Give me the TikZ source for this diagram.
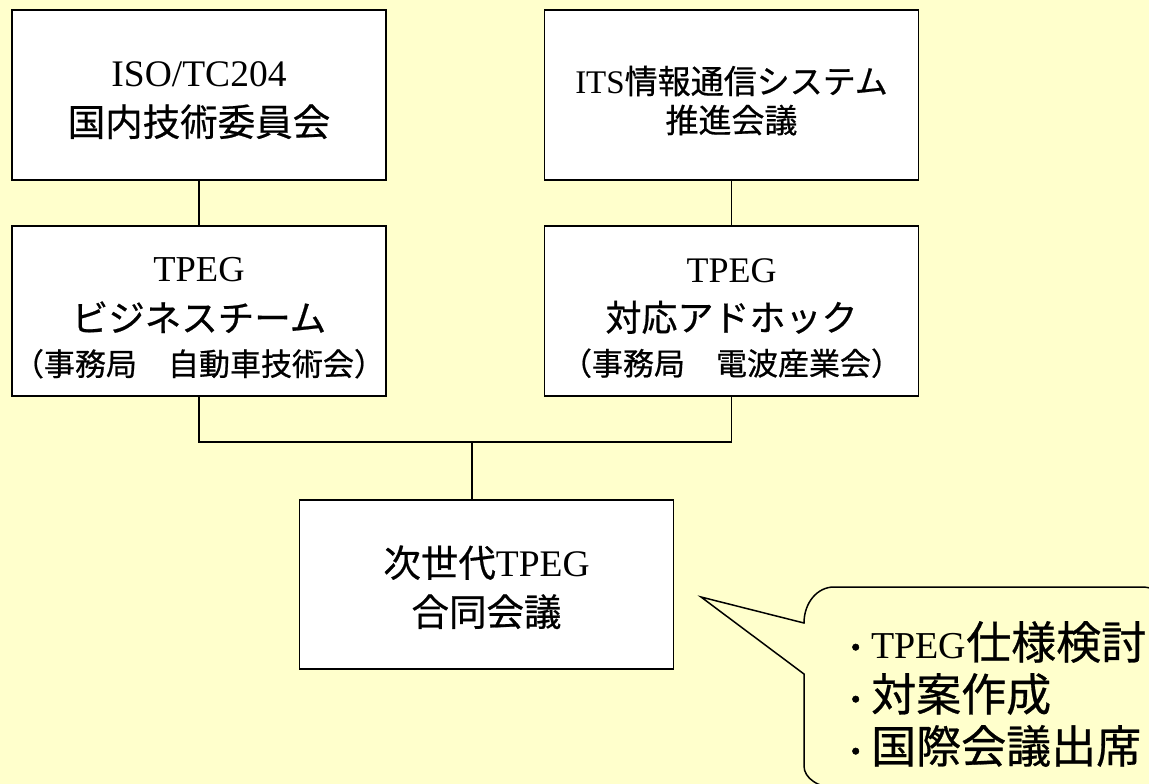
\documentclass[tikz,border=0pt]{standalone}
\usepackage{fontspec}
\setmainfont{Liberation Serif}
\newfontfamily\jp[FakeBold=0.6]{Noto Sans CJK JP}
\newfontfamily\jpbullet[FakeBold=1.5]{Noto Sans CJK JP}
\definecolor{bgyellow}{HTML}{FFFFCC}
\newcommand\tstr[1]{\rule{0pt}{#1}}
\newcommand\blt{{\jpbullet\fontsize{31}{52}\selectfont ・}}
\begin{document}
\begin{tikzpicture}[x=1pt,y=-1pt,
  box/.style={draw=black, line width=1.5pt, fill=white, minimum width=374pt,
    minimum height=170pt, inner sep=0pt, align=center},
  link/.style={draw=black, line width=1.5pt},
  bigtext/.style={font=\fontsize{37.5}{49}\selectfont},
  midtext/.style={font=\fontsize{33}{39}\selectfont}]
\useasboundingbox (0,0) rectangle (1149,784);
\fill[bgyellow] (0,0) rectangle (1149,784);

\node[box, bigtext] (iso) at (199,95) {\tstr{36pt}ISO/TC204\\{\jp 国内技術委員会}};
\node[box, midtext] (its) at (731.5,95) {\tstr{39pt}ITS{\jp 情報通信システム}\\{\jp 推進会議}};
\node[box, font=\fontsize{36.5}{50}\selectfont] (biz) at (199,311)
  {\tstr{38pt}TPEG\\{\jp ビジネスチーム}\\[-6pt]{\jp\fontsize{31}{50}\selectfont （事務局　自動車技術会）}};
\node[box, font=\fontsize{36}{49}\selectfont] (adh) at (731.5,311)
  {\tstr{38pt}TPEG\\{\jp 対応アドホック}\\[-5pt]{\jp\fontsize{31}{50}\selectfont （事務局　電波産業会）}};
\node[box, bigtext, minimum height=169pt] (joint) at (486.5,584.5) {\tstr{37pt}{\jp 次世代}TPEG\\{\jp 合同会議}};

\coordinate (j) at (472,442);
\draw[link] (iso.south) -- (biz.north);
\draw[link] (its.south) -- (adh.north);
\draw[link] (biz.south) |- (j) -| (adh.south);
\draw[link] (j) -- (j |- joint.north);

\begin{scope}
\clip (0,0) rectangle (1149,784);
\draw[link, fill=bgyellow] (804,674) -- (701,597) -- (804,623)
  .. controls (804,603) and (817,587) .. (834,587) -- (1142,587)
  .. controls (1158.6,587) and (1172,600.4) .. (1172,617) -- (1172,758)
  .. controls (1172,774.6) and (1158.6,788) .. (1142,788) -- (838,788)
  .. controls (818,788) and (804,778) .. (804,766) -- cycle;
\end{scope}
\node[anchor=west, align=left, inner sep=0pt, font=\jp\fontsize{45}{52}\selectfont] (note) at (840,694)
  {\blt{\rmfamily\fontsize{38}{52}\selectfont TPEG}仕様検討\\\blt 対案作成\\\blt 国際会議出席};
\end{tikzpicture}
\end{document}
